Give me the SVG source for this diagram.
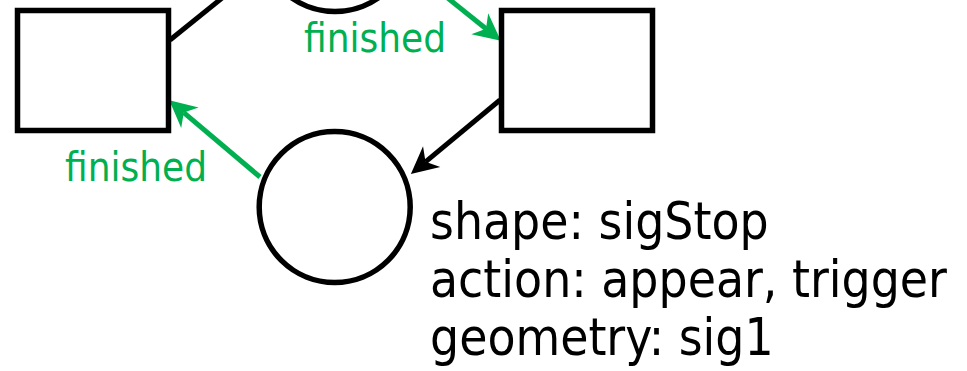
<svg xmlns="http://www.w3.org/2000/svg" width="967" height="371" viewBox="0 0 967 371">
<style>
.node{fill:#fff;stroke:#000;stroke-width:5.5}
.k{fill:none;stroke:#000;stroke-width:5}
.g{fill:none;stroke:#00b050;stroke-width:5}
.t{font-family:'DejaVu Sans Condensed','DejaVu Sans',sans-serif;font-stretch:condensed}
.lbl{font-size:40px;fill:#00b050}
.info{font-size:51px;fill:#000}
</style>
<defs>
<marker id="ak" markerUnits="userSpaceOnUse" markerWidth="28" markerHeight="28" refX="8" refY="13.5" orient="auto" overflow="visible"><path d="M0,0 L27,13.5 L0,27 L8,13.5 Z" fill="#000"/></marker>
<marker id="ag" markerUnits="userSpaceOnUse" markerWidth="28" markerHeight="28" refX="8" refY="13.5" orient="auto" overflow="visible"><path d="M0,0 L27,13.5 L0,27 L8,13.5 Z" fill="#00b050"/></marker>
</defs>
<g id="connectors">
<line class="k" x1="170" y1="40" x2="232" y2="-10"/>
<line class="g" x1="419" y1="-25" x2="486" y2="28.75" marker-end="url(#ag)"/>
<line class="k" x1="500" y1="100" x2="425.5" y2="161.8" marker-end="url(#ak)"/>
<line class="g" x1="260" y1="177" x2="183.8" y2="112.6" marker-end="url(#ag)"/>
<text class="t lbl" x="304" y="52">finished</text>
<text class="t lbl" x="65" y="181">finished</text>
</g>
<g id="place-top"><circle class="node" cx="335" cy="-64" r="75.5"/></g>
<g id="transition-left"><rect class="node" x="17.5" y="10.5" width="151" height="120"/></g>
<g id="transition-right"><rect class="node" x="501.5" y="10.5" width="151" height="120"/></g>
<g id="place-sigstop">
<circle class="node" cx="334.7" cy="207" r="75.5"/>
<text class="t info" x="430" y="239">shape: sigStop</text>
<text class="t info" x="430" y="297">action: appear, trigger</text>
<text class="t info" x="430" y="355">geometry: sig1</text>
</g>
</svg>
